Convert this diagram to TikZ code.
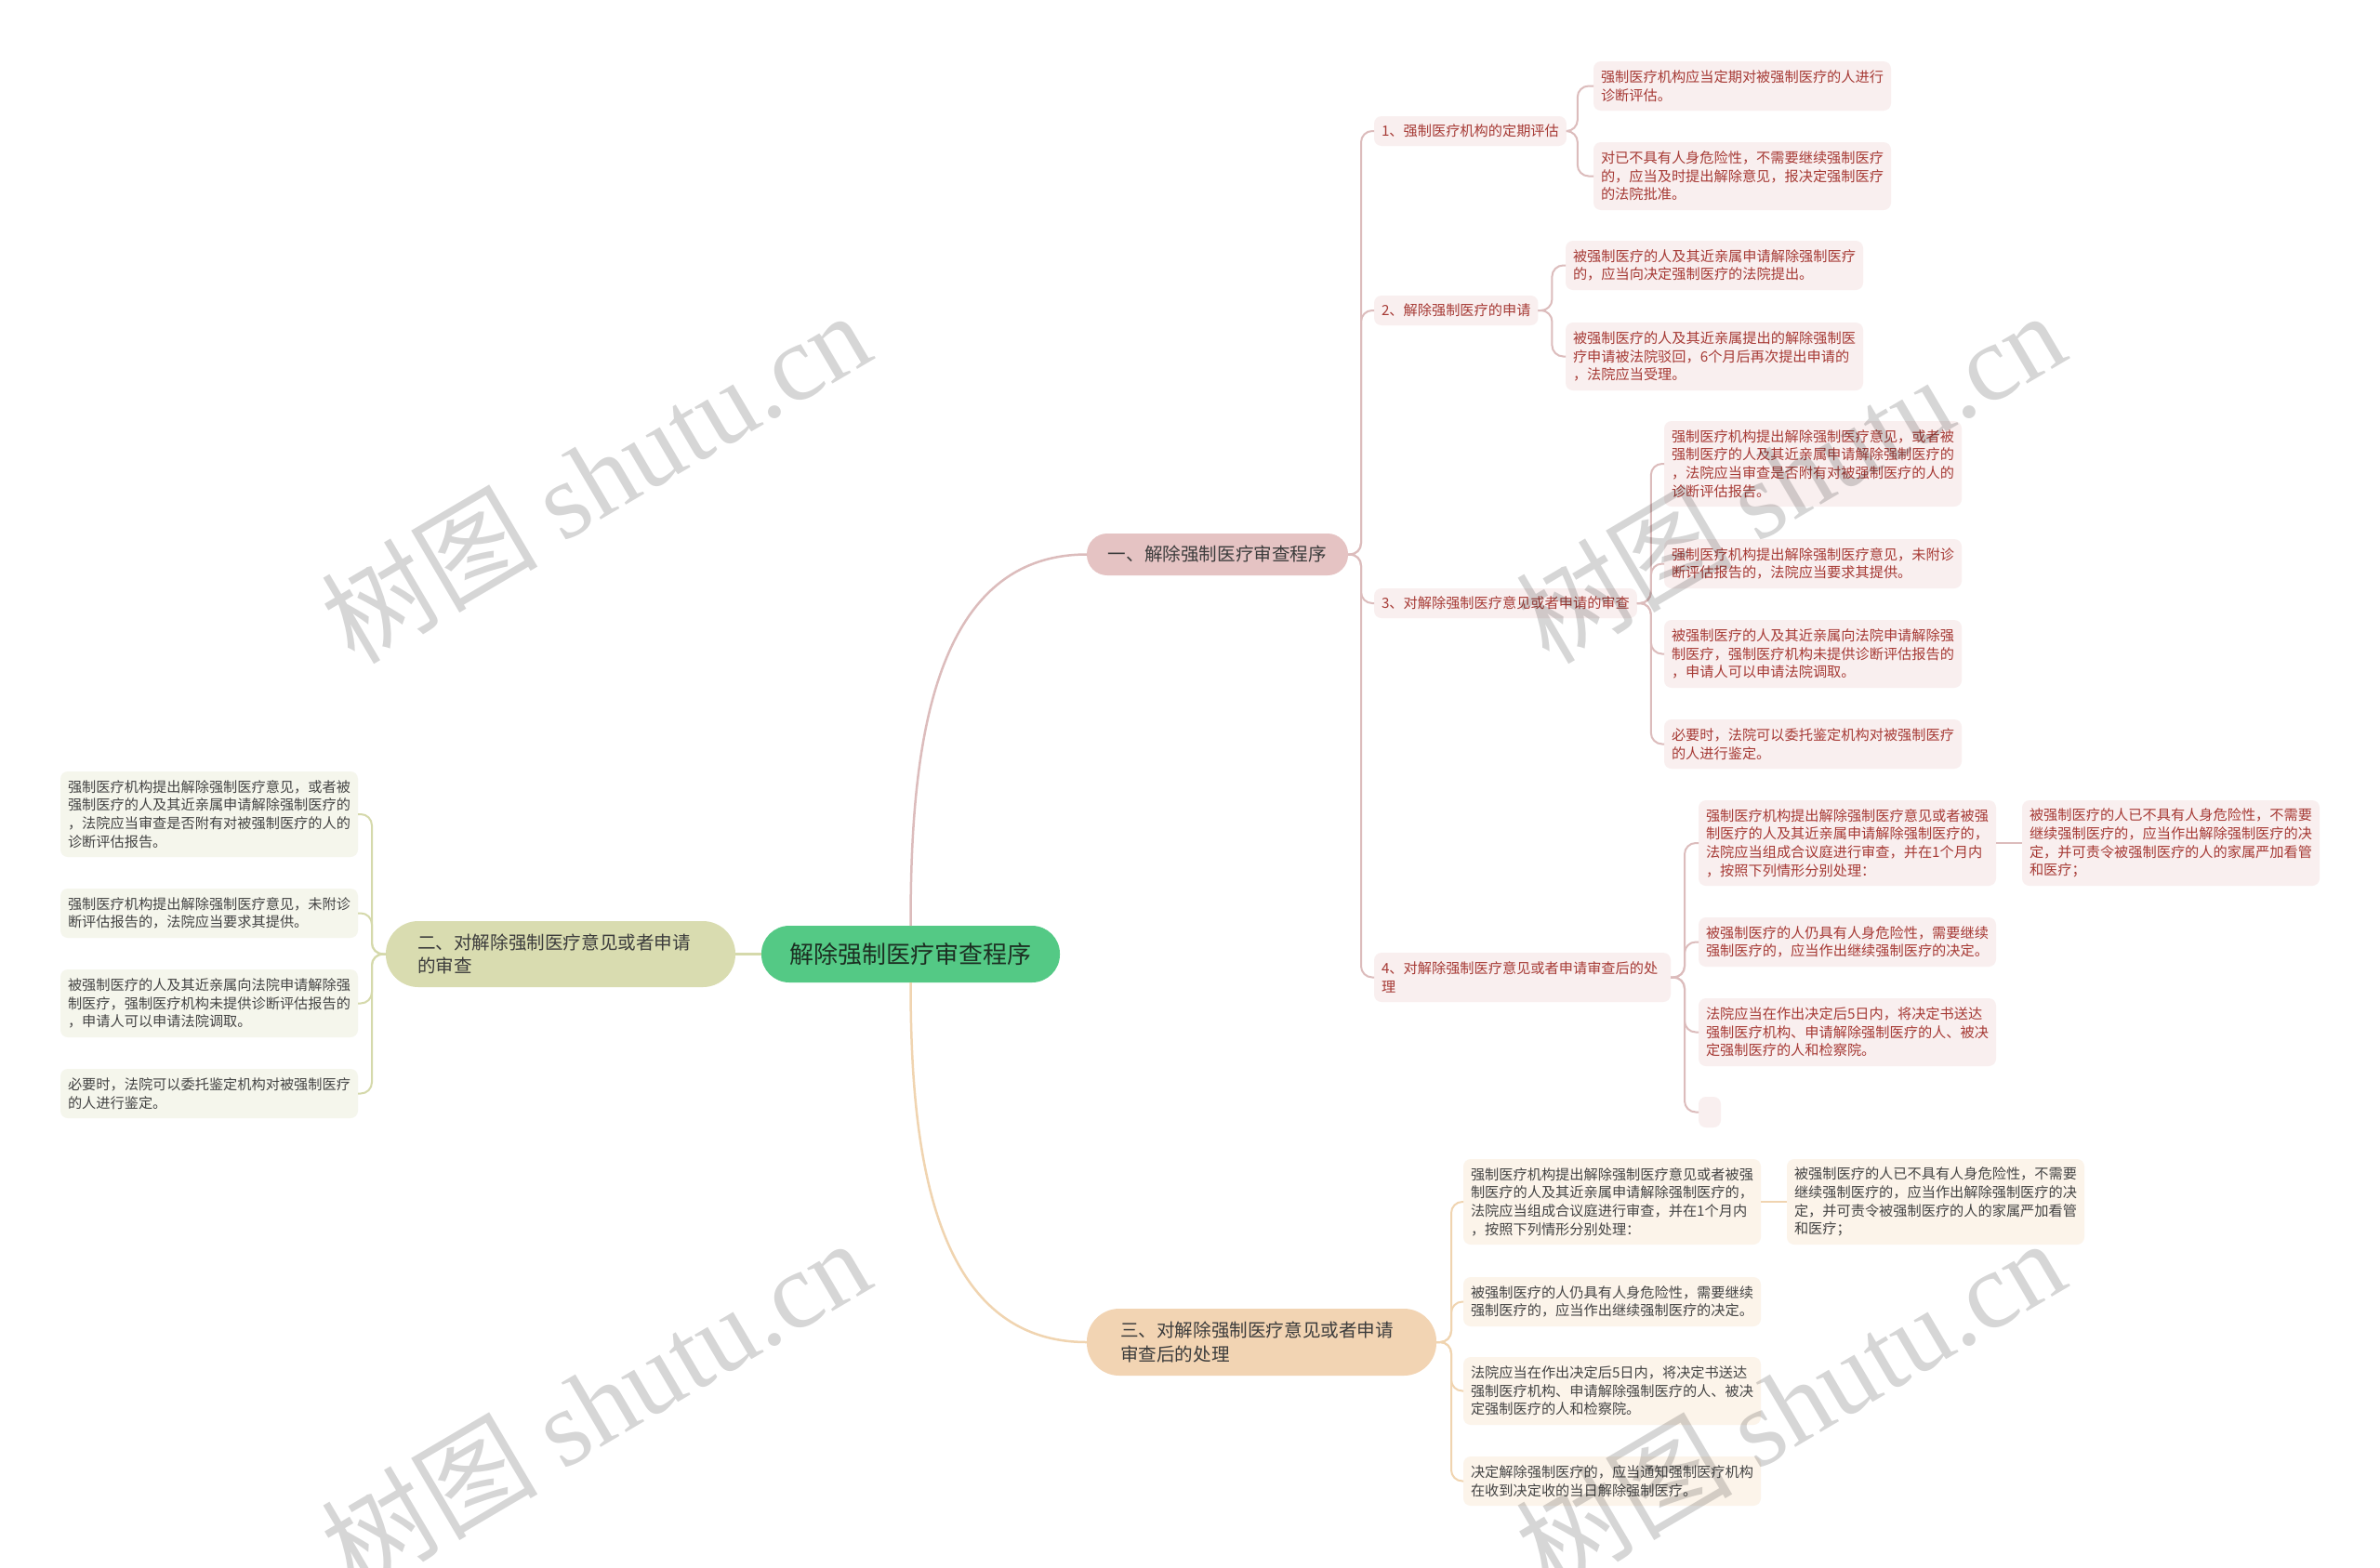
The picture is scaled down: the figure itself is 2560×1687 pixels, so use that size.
\documentclass[tikz,border=0pt]{standalone}
\usepackage{fontspec}
\setmainfont{Noto Sans CJK SC}
\newfontfamily\wmlatin{Liberation Serif}
\usetikzlibrary{calc}
\definecolor{rootfill}{HTML}{54C985}
\definecolor{roottext}{HTML}{1C2F22}
\definecolor{bonefill}{HTML}{E5C3C3}
\definecolor{btwofill}{HTML}{D9DCB0}
\definecolor{bthreefill}{HTML}{F2D4B3}
\definecolor{btext}{HTML}{3C3C3C}
\definecolor{pinkfill}{HTML}{F9EFEF}
\definecolor{pinktext}{HTML}{A63A35}
\definecolor{olivefill}{HTML}{F5F6EC}
\definecolor{tanfill}{HTML}{FCF4EA}
\definecolor{greytext}{HTML}{444444}
\definecolor{linepink}{HTML}{DCBCBC}
\definecolor{lineolive}{HTML}{D5D9AB}
\definecolor{linetan}{HTML}{F0D4B0}
\tikzset{
  every node/.style={inner sep=0pt, outer sep=0pt},
  box/.style={anchor=north west, inner xsep=8pt, inner ysep=2pt, rounded corners=8pt, align=left, font=\fontsize{15.2pt}{19.6pt}\selectfont},
  pinkbox/.style={box, fill=pinkfill, text=pinktext},
  olivebox/.style={box, fill=olivefill, text=greytext},
  tanbox/.style={box, fill=tanfill, text=greytext},
  wide/.style={text width=304pt},
  hone/.style={minimum height=32pt},
  htwo/.style={minimum height=53pt},
  hthree/.style={minimum height=73pt},
  hfour/.style={minimum height=92pt},
  pill/.style={anchor=north west, font=\fontsize{19.6pt}{25.5pt}\selectfont, text=btext},
  conn/.style={line width=2pt, rounded corners=12pt},
  cpink/.style={conn, draw=linepink},
  colive/.style={conn, draw=lineolive},
  ctan/.style={conn, draw=linetan},
  wm/.style={font=\fontsize{117pt}{117pt}\selectfont, text=black, text opacity=0.16, rotate=30.5}
}
\begin{document}
\begin{tikzpicture}[x=1pt,y=-1pt]
\fill[white] (0,0) rectangle (2560,1687);
\useasboundingbox (0,0) rectangle (2560,1687);

% root and main branches
\node[anchor=north west, fill=rootfill, text=roottext, rounded corners=30pt, minimum width=321pt, minimum height=61pt, font=\fontsize{26pt}{30pt}\selectfont] (root) at (819,996) {解除强制医疗审查程序};
\node[pill, fill=bonefill, rounded corners=22pt, minimum width=281pt, minimum height=45pt] (b1) at (1169,574) {一、解除强制医疗审查程序};
\node[pill, fill=btwofill, rounded corners=35pt, minimum width=376pt, minimum height=71pt] (b2) at (415,991) {};
\node[pill, anchor=west, align=left] (b2txt) at ($(b2.west)+(34,0)$) {二、对解除强制医疗意见或者申请\\的审查};
\node[pill, fill=bthreefill, rounded corners=35pt, minimum width=376pt, minimum height=72pt] (b3) at (1169,1408) {};
\node[pill, anchor=west, align=left] (b3txt) at ($(b3.west)+(36,0)$) {三、对解除强制医疗意见或者申请\\审查后的处理};

% branch 1, level 2
\node[pinkbox, hone] (n1) at (1478,125) {1、强制医疗机构的定期评估};
\node[pinkbox, hone] (n2) at (1478,318) {2、解除强制医疗的申请};
\node[pinkbox, hone] (n3) at (1478,633) {3、对解除强制医疗意见或者申请的审查};
\node[pinkbox, htwo, text width=303pt] (n4) at (1478,1025) {4、对解除强制医疗意见或者申请审查后的处\\理};

% branch 1, level 3
\node[pinkbox, wide, htwo] (n1a) at (1714,66) {强制医疗机构应当定期对被强制医疗的人进行\\诊断评估。};
\node[pinkbox, wide, hthree] (n1b) at (1714,153) {对已不具有人身危险性，不需要继续强制医疗\\的，应当及时提出解除意见，报决定强制医疗\\的法院批准。};
\node[pinkbox, wide, htwo] (n2a) at (1684,259) {被强制医疗的人及其近亲属申请解除强制医疗\\的，应当向决定强制医疗的法院提出。};
\node[pinkbox, wide, hthree] (n2b) at (1684,347) {被强制医疗的人及其近亲属提出的解除强制医\\疗申请被法院驳回，6个月后再次提出申请的\\，法院应当受理。};
\node[pinkbox, wide, hfour] (n3a) at (1790,453) {强制医疗机构提出解除强制医疗意见，或者被\\强制医疗的人及其近亲属申请解除强制医疗的\\，法院应当审查是否附有对被强制医疗的人的\\诊断评估报告。};
\node[pinkbox, wide, htwo] (n3b) at (1790,580) {强制医疗机构提出解除强制医疗意见，未附诊\\断评估报告的，法院应当要求其提供。};
\node[pinkbox, wide, hthree] (n3c) at (1790,667) {被强制医疗的人及其近亲属向法院申请解除强\\制医疗，强制医疗机构未提供诊断评估报告的\\，申请人可以申请法院调取。};
\node[pinkbox, wide, htwo] (n3d) at (1790,774) {必要时，法院可以委托鉴定机构对被强制医疗\\的人进行鉴定。};
\node[pinkbox, wide, hfour] (n4a) at (1827,861) {强制医疗机构提出解除强制医疗意见或者被强\\制医疗的人及其近亲属申请解除强制医疗的，\\法院应当组成合议庭进行审查，并在1个月内\\，按照下列情形分别处理：};
\node[pinkbox, wide, hfour] (n4a1) at (2175,861) {被强制医疗的人已不具有人身危险性，不需要\\继续强制医疗的，应当作出解除强制医疗的决\\定，并可责令被强制医疗的人的家属严加看管\\和医疗；};
\node[pinkbox, wide, htwo] (n4b) at (1827,987) {被强制医疗的人仍具有人身危险性，需要继续\\强制医疗的，应当作出继续强制医疗的决定。};
\node[pinkbox, wide, hthree] (n4c) at (1827,1074) {法院应当在作出决定后5日内，将决定书送达\\强制医疗机构、申请解除强制医疗的人、被决\\定强制医疗的人和检察院。};
\node[pinkbox, minimum width=24pt, minimum height=33pt, inner xsep=0pt] (n4d) at (1827,1180) {};

% branch 2 children
\node[olivebox, wide, hfour] (b2a) at (65,830) {强制医疗机构提出解除强制医疗意见，或者被\\强制医疗的人及其近亲属申请解除强制医疗的\\，法院应当审查是否附有对被强制医疗的人的\\诊断评估报告。};
\node[olivebox, wide, htwo] (b2b) at (65,956) {强制医疗机构提出解除强制医疗意见，未附诊\\断评估报告的，法院应当要求其提供。};
\node[olivebox, wide, hthree] (b2c) at (65,1043) {被强制医疗的人及其近亲属向法院申请解除强\\制医疗，强制医疗机构未提供诊断评估报告的\\，申请人可以申请法院调取。};
\node[olivebox, wide, htwo] (b2d) at (65,1150) {必要时，法院可以委托鉴定机构对被强制医疗\\的人进行鉴定。};

% branch 3 children
\node[tanbox, wide, hfour] (b3a) at (1574,1247) {强制医疗机构提出解除强制医疗意见或者被强\\制医疗的人及其近亲属申请解除强制医疗的，\\法院应当组成合议庭进行审查，并在1个月内\\，按照下列情形分别处理：};
\node[tanbox, wide, hfour] (b3a1) at (1922,1247) {被强制医疗的人已不具有人身危险性，不需要\\继续强制医疗的，应当作出解除强制医疗的决\\定，并可责令被强制医疗的人的家属严加看管\\和医疗；};
\node[tanbox, wide, htwo] (b3b) at (1574,1374) {被强制医疗的人仍具有人身危险性，需要继续\\强制医疗的，应当作出继续强制医疗的决定。};
\node[tanbox, wide, hthree] (b3c) at (1574,1460) {法院应当在作出决定后5日内，将决定书送达\\强制医疗机构、申请解除强制医疗的人、被决\\定强制医疗的人和检察院。};
\node[tanbox, wide, htwo] (b3d) at (1574,1567) {决定解除强制医疗的，应当通知强制医疗机构\\在收到决定收的当日解除强制医疗。};

% root connectors
\draw[linepink, line width=2.5pt] (root.north) .. controls ($(root.north)+(0,-173)$) and ($(b1.west)+(-173,0)$) .. (b1.west);
\draw[linetan, line width=2.5pt] (root.south) .. controls ($(root.south)+(0,170)$) and ($(b3.west)+(-170,0)$) .. (b3.west);
\draw[lineolive, line width=2.5pt] (root.west) -- (b2.east);

% branch 1 -> level 2
\foreach \c in {n1,n2,n3,n4} {
  \draw[cpink] (b1.east) -- ([xshift=14pt]b1.east) |- (\c.west);
}
% level 2 -> level 3
\foreach \c in {n1a,n1b} { \draw[cpink] (n1.east) -- ([xshift=12pt]n1.east) |- (\c.west); }
\foreach \c in {n2a,n2b} { \draw[cpink] (n2.east) -- ([xshift=15pt]n2.east) |- (\c.west); }
\foreach \c in {n3a,n3b,n3c,n3d} { \draw[cpink] (n3.east) -- ([xshift=15pt]n3.east) |- (\c.west); }
\foreach \c in {n4a,n4b,n4c,n4d} { \draw[cpink] (n4.east) -- ([xshift=15pt]n4.east) |- (\c.west); }
\draw[cpink] (n4a.east) -- (n4a1.west);

% branch 2 -> children
\foreach \c in {b2a,b2b,b2c,b2d} { \draw[colive] (b2.west) -- ([xshift=-15pt]b2.west) |- (\c.east); }

% branch 3 -> children
\foreach \c in {b3a,b3b,b3c,b3d} { \draw[ctan] (b3.east) -- ([xshift=16pt]b3.east) |- (\c.west); }
\draw[ctan] (b3a.east) -- (b3a1.west);

% watermarks
\node[wm] (wm1) at (640,512) {树图 {\wmlatin shutu.cn}};
\node[wm] (wm2) at (1925,512) {树图 {\wmlatin shutu.cn}};
\node[wm] (wm3) at (640,1510) {树图 {\wmlatin shutu.cn}};
\node[wm] (wm4) at (1925,1510) {树图 {\wmlatin shutu.cn}};
\end{tikzpicture}
\end{document}
